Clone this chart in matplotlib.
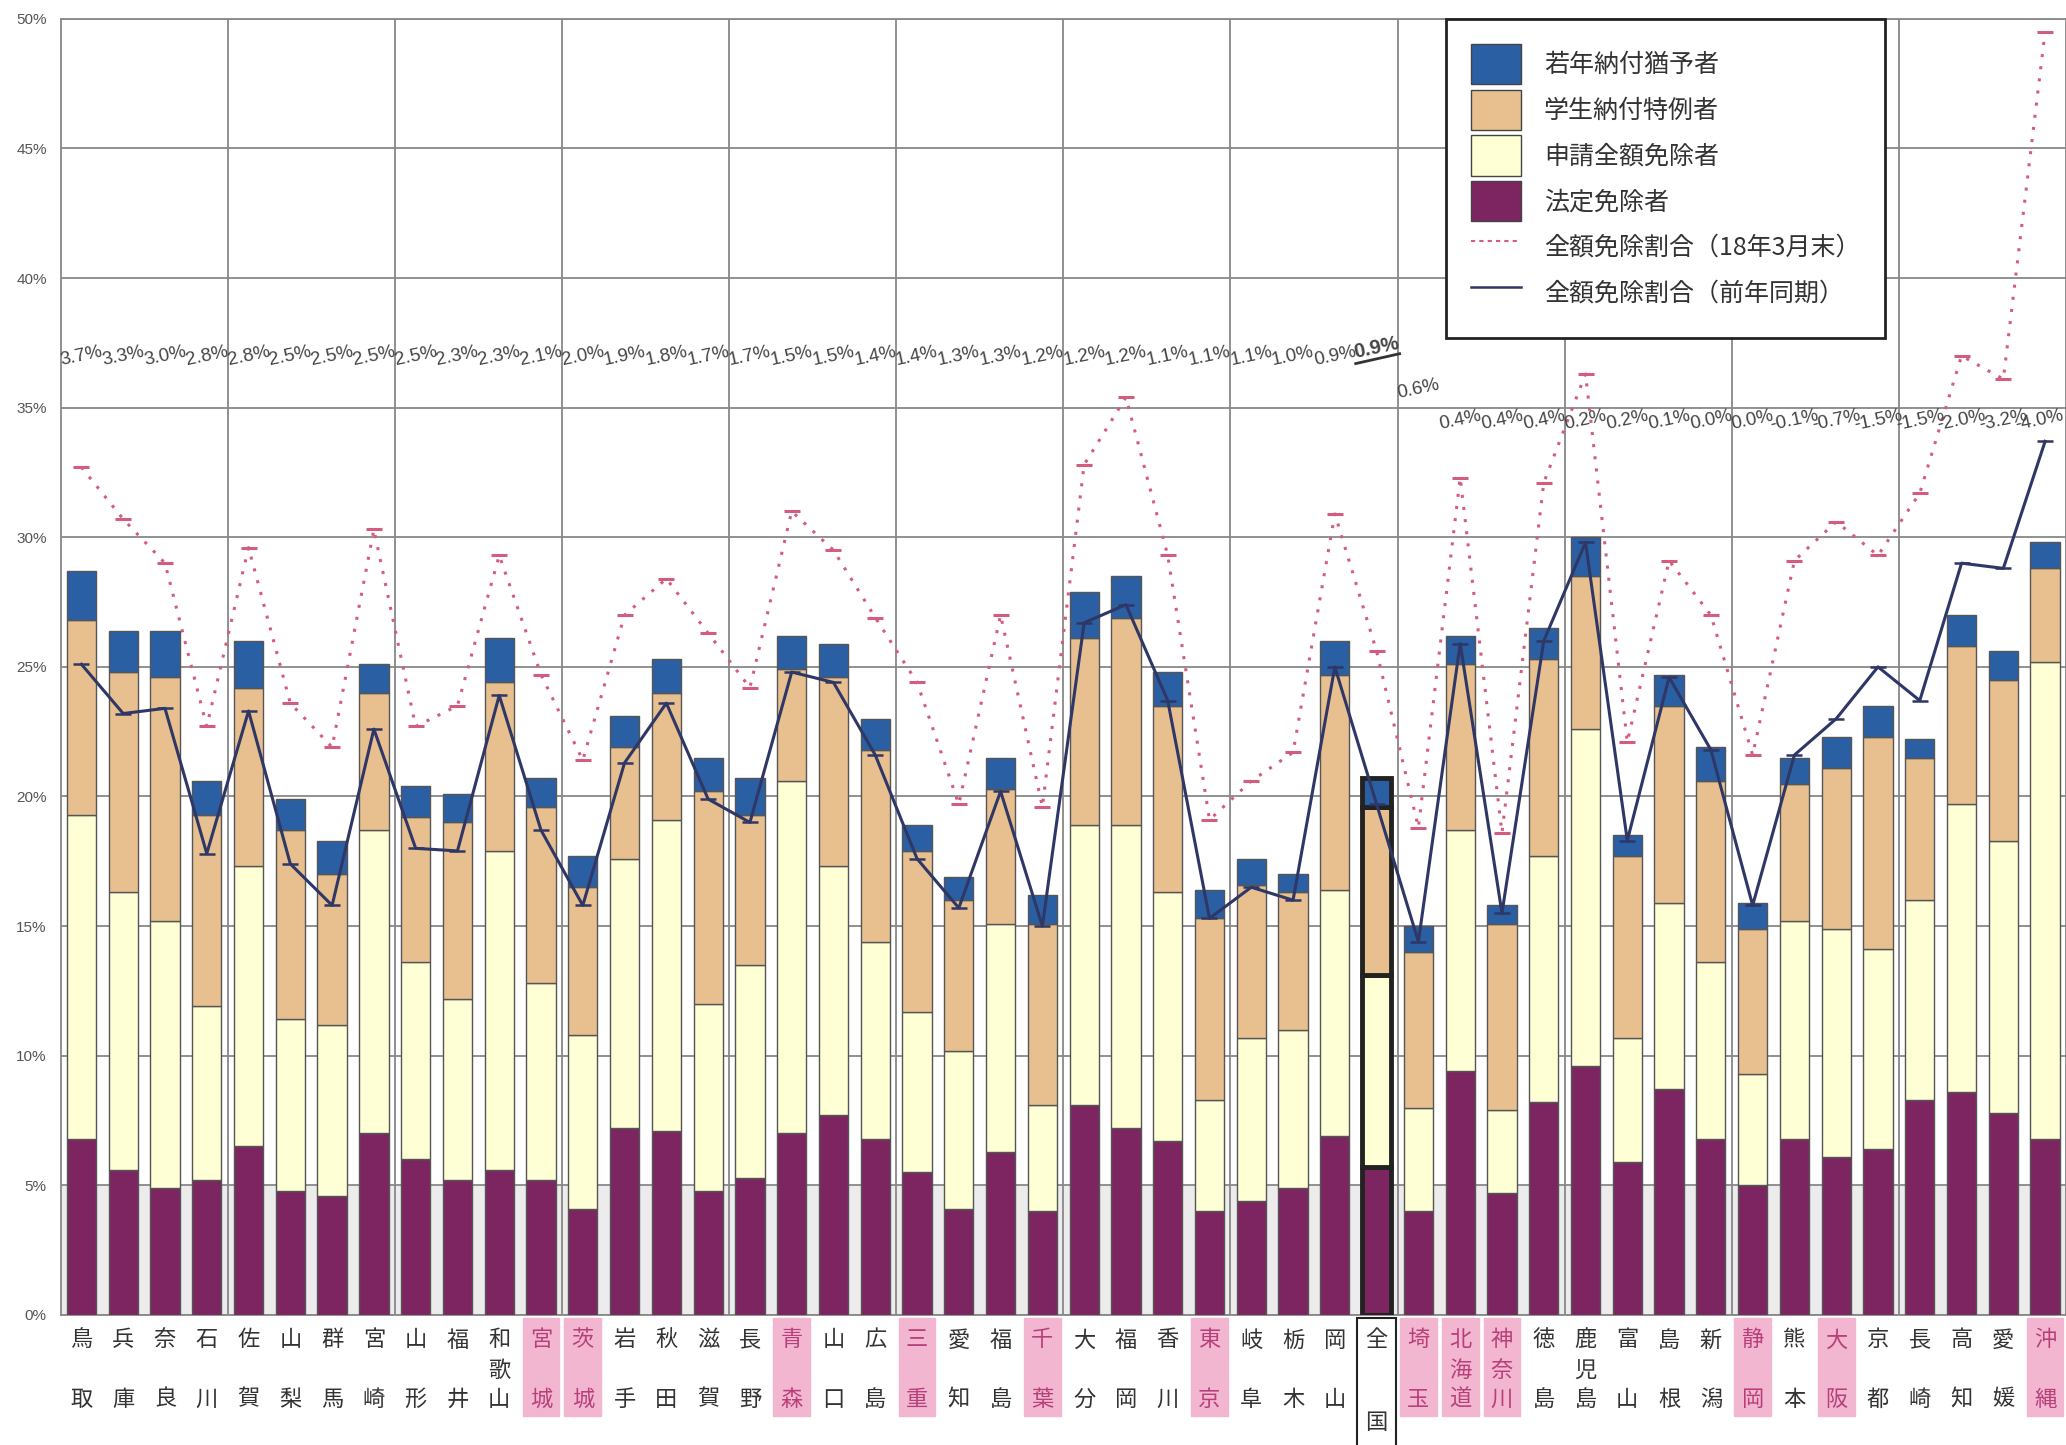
import numpy as np
import matplotlib
matplotlib.use('Agg')
import matplotlib.pyplot as plt
from matplotlib.patches import Patch, Rectangle
from matplotlib.lines import Line2D
import matplotlib.transforms as mtransforms

plt.rcParams['font.family'] = ['Noto Sans CJK JP', 'DejaVu Sans']

# prefectures (left to right), 全国 in the middle
names = ['鳥取', '兵庫', '奈良', '石川', '佐賀', '山梨', '群馬', '宮崎',
         '山形', '福井', '和歌山', '宮城', '茨城', '岩手', '秋田', '滋賀',
         '長野', '青森', '山口', '広島', '三重', '愛知', '福島', '千葉',
         '大分', '福岡', '香川', '東京', '岐阜', '栃木', '岡山', '全国',
         '埼玉', '北海道', '神奈川', '徳島', '鹿児島', '富山', '島根', '新潟',
         '静岡', '熊本', '大阪', '京都', '長崎', '高知', '愛媛', '沖縄']
highlight = ['宮城', '茨城', '青森', '三重', '千葉', '東京', '埼玉', '北海道',
             '神奈川', '静岡', '大阪', '沖縄']

# stacked series (%)
legal = [6.8, 5.6, 4.9, 5.2, 6.5, 4.8, 4.6, 7.0, 6.0, 5.2, 5.6, 5.2, 4.1, 7.2, 7.1, 4.8,
         5.3, 7.0, 7.7, 6.8, 5.5, 4.1, 6.3, 4.0, 8.1, 7.2, 6.7, 4.0, 4.4, 4.9, 6.9, 5.7,
         4.0, 9.4, 4.7, 8.2, 9.6, 5.9, 8.7, 6.8, 5.0, 6.8, 6.1, 6.4, 8.3, 8.6, 7.8, 6.8]
apply_full = [12.5, 10.7, 10.3, 6.7, 10.8, 6.6, 6.6, 11.7, 7.6, 7.0, 12.3, 7.6, 6.7, 10.4, 12.0, 7.2,
              8.2, 13.6, 9.6, 7.6, 6.2, 6.1, 8.8, 4.1, 10.8, 11.7, 9.6, 4.3, 6.3, 6.1, 9.5, 7.4,
              4.0, 9.3, 3.2, 9.5, 13.0, 4.8, 7.2, 6.8, 4.3, 8.4, 8.8, 7.7, 7.7, 11.1, 10.5, 18.4]
student = [7.5, 8.5, 9.4, 7.4, 6.9, 7.3, 5.8, 5.3, 5.6, 6.8, 6.5, 6.8, 5.7, 4.3, 4.9, 8.2,
           5.8, 4.3, 7.3, 7.4, 6.2, 5.8, 5.2, 7.0, 7.2, 8.0, 7.2, 7.0, 5.9, 5.3, 8.3, 6.5,
           6.0, 6.4, 7.2, 7.6, 5.9, 7.0, 7.6, 7.0, 5.6, 5.3, 6.2, 8.2, 5.5, 6.1, 6.2, 3.6]
youth = [1.9, 1.6, 1.8, 1.3, 1.8, 1.2, 1.3, 1.1, 1.2, 1.1, 1.7, 1.1, 1.2, 1.2, 1.3, 1.3,
         1.4, 1.3, 1.3, 1.2, 1.0, 0.9, 1.2, 1.1, 1.8, 1.6, 1.3, 1.1, 1.0, 0.7, 1.3, 1.1,
         1.0, 1.1, 0.7, 1.2, 1.5, 0.8, 1.2, 1.3, 1.0, 1.0, 1.2, 1.2, 0.7, 1.2, 1.1, 1.0]

# lines (%)
ratio_h18 = [32.7, 30.7, 29.0, 22.7, 29.6, 23.6, 21.9, 30.3, 22.7, 23.5, 29.3, 24.7, 21.4, 27.0, 28.4, 26.3,
             24.2, 31.0, 29.5, 26.9, 24.4, 19.7, 27.0, 19.6, 32.8, 35.4, 29.3, 19.1, 20.6, 21.7, 30.9, 25.6,
             18.8, 32.3, 18.6, 32.1, 36.3, 22.1, 29.1, 27.0, 21.6, 29.1, 30.6, 29.3, 31.7, 37.0, 36.1, 49.5]
ratio_prev = [25.1, 23.2, 23.4, 17.8, 23.3, 17.4, 15.8, 22.6, 18.0, 17.9, 23.9, 18.7, 15.8, 21.3, 23.6, 19.9,
              19.0, 24.8, 24.4, 21.6, 17.6, 15.7, 20.2, 15.0, 26.7, 27.4, 23.7, 15.3, 16.5, 16.0, 25.0, 19.7,
              14.4, 25.9, 15.5, 26.0, 29.8, 18.3, 24.6, 21.8, 15.8, 21.6, 23.0, 25.0, 23.7, 29.0, 28.8, 33.7]

# change vs previous year (labels)
change = ['3.7%', '3.3%', '3.0%', '2.8%', '2.8%', '2.5%', '2.5%', '2.5%', '2.5%', '2.3%', '2.3%', '2.1%',
          '2.0%', '1.9%', '1.8%', '1.7%', '1.7%', '1.5%', '1.5%', '1.4%', '1.4%', '1.3%', '1.3%', '1.2%',
          '1.2%', '1.2%', '1.1%', '1.1%', '1.1%', '1.0%', '0.9%', '0.9%', '0.6%', '0.4%', '0.4%', '0.4%',
          '0.2%', '0.2%', '0.1%', '0.0%', '0.0%', '-0.1%', '-0.7%', '-1.5%', '-1.5%', '-2.0%', '-3.2%', '-4.0%']

c_legal = '#7d2560'
c_apply = '#ffffd6'
c_student = '#e8c08f'
c_youth = '#2b5fa3'
c_red = '#d45c7e'
c_blue = '#2e3766'

fig = plt.figure(figsize=(20.66, 14.45), dpi=100)
ax = fig.add_axes([0.0293, 0.090, 0.9707, 0.897])

x = np.arange(len(names))
i_all = names.index('全国')

ax.axhspan(0, 5, color='#ececec', zorder=0)

edge = '#555555'
lws = [1.0] * len(names)
edges = [edge] * len(names)
lws[i_all] = 3.5
edges[i_all] = '#222222'

b1 = np.array(legal)
b2 = b1 + np.array(apply_full)
b3 = b2 + np.array(student)
w = 0.7
ax.bar(x, legal, w, color=c_legal, edgecolor=edges, linewidth=lws, zorder=3)
ax.bar(x, apply_full, w, bottom=b1, color=c_apply, edgecolor=edges, linewidth=lws, zorder=3)
ax.bar(x, student, w, bottom=b2, color=c_student, edgecolor=edges, linewidth=lws, zorder=3)
ax.bar(x, youth, w, bottom=b3, color=c_youth, edgecolor=edges, linewidth=lws, zorder=3)

ax.plot(x, ratio_h18, color=c_red, linestyle=(0, (1, 3)), lw=2.2, marker='_',
        markersize=12, markeredgewidth=2.2, zorder=4)
ax.plot(x, ratio_prev, color=c_blue, lw=2.2, marker='_', markersize=12,
        markeredgewidth=1.8, zorder=5)

# change labels
n_last = len(change) - 1
for i, lab in enumerate(change):
    if i < i_all:
        yy = 37.0
    elif i == i_all:
        yy = 37.3
    elif i == i_all + 1:
        yy = 35.7
    else:
        yy = 34.5
    bold = 'bold' if i == i_all else 'normal'
    fs = 14.5 if i == i_all else 13.5
    xx = i - 0.15 if i == n_last else i
    ax.text(xx, yy, lab, rotation=12, ha='center', va='center', fontsize=fs,
            color='#444444', family='Liberation Sans', fontweight=bold, zorder=6)
    if i == i_all:
        ax.plot([i - 0.5, i + 0.55], [yy - 0.6, yy - 0.22], color='#333333', lw=2, zorder=6)

ax.set_xlim(-0.5, len(names) - 0.5)
ax.set_ylim(0, 50)
ax.set_yticks(np.arange(0, 51, 5))
ax.set_yticklabels([f'{v}%' for v in range(0, 51, 5)], fontsize=11, color='#555555',
                   family='Liberation Sans')
ax.tick_params(axis='y', length=0, pad=10)
ax.set_xticks([])

ax.yaxis.grid(True, color='#888888', lw=1.3, zorder=1)
for k in range(4, len(names), 4):
    ax.axvline(k - 0.5, color='#888888', lw=1.3, zorder=1)
for s in ax.spines.values():
    s.set_color('#888888')
    s.set_linewidth(1.3)

# category labels, one character per row
trans = mtransforms.blended_transform_factory(ax.transData, ax.transAxes)
rows = [-0.0193, -0.0427, -0.065, -0.0833]
for i, n in enumerate(names):
    if n in highlight:
        ax.add_patch(Rectangle((i - 0.44, -0.078), 0.88, 0.076, transform=trans,
                               color='#f2b6d0', clip_on=False, zorder=1))
        col = '#b8407a'
    else:
        col = '#333333'
    if n == '全国':
        ax.add_patch(Rectangle((i - 0.47, -0.105), 0.94, 0.103, transform=trans,
                               facecolor='none', edgecolor='#222222', lw=1.5, clip_on=False))
        pos = [rows[0], rows[3]]
    elif len(n) == 3:
        pos = rows[:3]
    else:
        pos = [rows[0], rows[2]]
    for ch, yy in zip(n, pos):
        ax.text(i, yy, ch, transform=trans, ha='center', va='center', fontsize=16,
                color=col)

handles = [Patch(facecolor=c_youth, edgecolor='#444444'),
           Patch(facecolor=c_student, edgecolor='#444444'),
           Patch(facecolor=c_apply, edgecolor='#444444'),
           Patch(facecolor=c_legal, edgecolor='#444444'),
           Line2D([], [], color=c_red, linestyle=(0, (2, 2)), lw=1.5),
           Line2D([], [], color=c_blue, lw=1.8)]
labels = ['若年納付猶予者', '学生納付特例者', '申請全額免除者', '法定免除者',
          '全額免除割合（18年3月末）', '全額免除割合（前年同期）']
leg = ax.legend(handles, labels, loc='upper left', bbox_to_anchor=(0.691, 1.0),
                fontsize=18, handlelength=2.0, handleheight=2.1, handletextpad=0.9,
                labelspacing=0.22, borderpad=1.0, fancybox=False, framealpha=1,
                borderaxespad=0)
leg.get_frame().set_edgecolor('#222222')
leg.get_frame().set_linewidth(2)
for t in leg.get_texts():
    t.set_color('#333333')
leg.set_zorder(10)

plt.savefig('out.png', dpi=100)
